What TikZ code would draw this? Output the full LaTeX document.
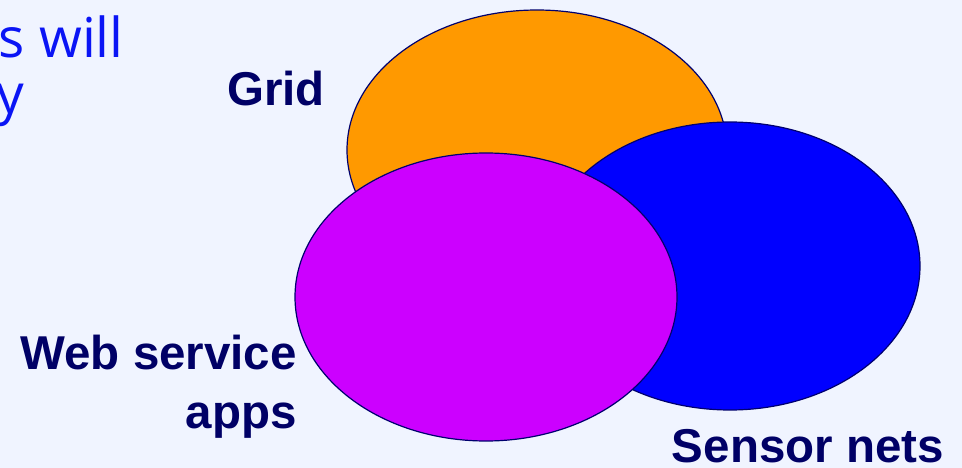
\documentclass[tikz,border=0pt]{standalone}
\usepackage{fontspec}
\setmainfont{Liberation Sans}
\newfontfamily\bodyfont{Open Sans}
\usetikzlibrary{shapes.geometric}
\definecolor{slidebg}{HTML}{F0F4FF}
\definecolor{navy}{HTML}{000066}
\definecolor{rim}{HTML}{00006E}
\definecolor{gridorange}{HTML}{FF9900}
\definecolor{sensorblue}{HTML}{0000FF}
\definecolor{webmagenta}{HTML}{CC00FF}
\definecolor{bodyblue}{HTML}{0A14F5}
\tikzset{
  blob/.style={ellipse, draw=rim, line width=1.2pt, inner sep=0pt,
    minimum width=380pt, minimum height=288pt},
  tag/.style={text=navy, inner sep=0pt, font=\bfseries\fontsize{47.5}{59}\selectfont},
  bodytext/.style={text=bodyblue, inner sep=0pt, font=\bodyfont\fontsize{55}{56}\selectfont}
}
\begin{document}
\begin{tikzpicture}[x=1pt,y=-1pt]
  \useasboundingbox (0,0) rectangle (962,468);
  \clip (0,0) rectangle (962,468);
  \fill[slidebg] (0,0) rectangle (962,468);

  % tail of the slide's body text
  \node[bodytext, anchor=base east] (line1) at (124,58) {s will};
  \node[bodytext, anchor=base east] (line2) at (24,114) {y};

  % overlapping domains
  \node[blob, fill=gridorange, minimum width=380pt, minimum height=280pt] (grid) at (537,150) {};
  \node[blob, fill=sensorblue] (sensor) at (730,266) {};
  \node[blob, fill=webmagenta, minimum width=382pt] (web) at (486,297) {};

  % labels
  \node[tag, anchor=base east] (gridlbl) at (325,106) {Grid};
  \node[tag, anchor=base east, align=right] (weblbl) at (297,428) {Web service\\apps};
  \node[tag, anchor=base east] (sensorlbl) at (944,462) {Sensor nets};
\end{tikzpicture}
\end{document}
